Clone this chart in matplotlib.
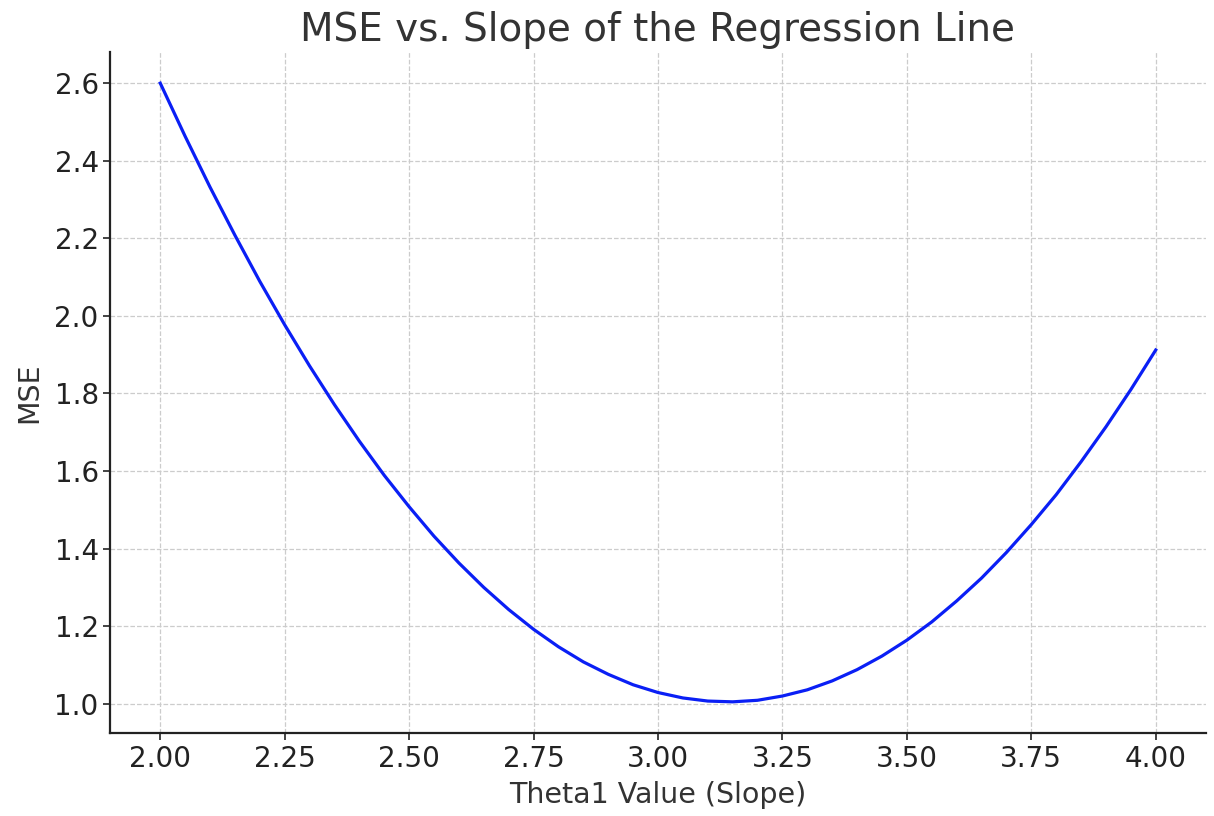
import matplotlib
matplotlib.use("Agg")
import matplotlib.pyplot as plt

# Valeurs (pente -> MSE), tous les 0.05
theta1 = [2.00, 2.05, 2.10, 2.15, 2.20, 2.25, 2.30, 2.35, 2.40, 2.45,
          2.50, 2.55, 2.60, 2.65, 2.70, 2.75, 2.80, 2.85, 2.90, 2.95,
          3.00, 3.05, 3.10, 3.15, 3.20, 3.25, 3.30, 3.35, 3.40, 3.45,
          3.50, 3.55, 3.60, 3.65, 3.70, 3.75, 3.80, 3.85, 3.90, 3.95, 4.00]
mse = [2.600, 2.463, 2.332, 2.208, 2.089, 1.977, 1.871, 1.771, 1.677, 1.589,
       1.508, 1.432, 1.363, 1.300, 1.243, 1.192, 1.147, 1.108, 1.076, 1.049,
       1.029, 1.015, 1.007, 1.005, 1.009, 1.020, 1.036, 1.059, 1.088, 1.123,
       1.164, 1.211, 1.265, 1.324, 1.390, 1.462, 1.539, 1.624, 1.714, 1.810, 1.912]

x_ticks = [2.00, 2.25, 2.50, 2.75, 3.00, 3.25, 3.50, 3.75, 4.00]
y_ticks = [1.0, 1.2, 1.4, 1.6, 1.8, 2.0, 2.2, 2.4, 2.6]

fig, ax = plt.subplots(figsize=(12.14, 8.16), dpi=100)
ax.plot(theta1, mse, color="#0a1ff5", linewidth=2.3)

ax.set_title("MSE vs. Slope of the Regression Line", fontsize=28, color="#333333", pad=8)
ax.set_xlabel("Theta1 Value (Slope)", fontsize=20.5, color="#333333", labelpad=6)
ax.set_ylabel("MSE", fontsize=20.5, color="#333333", labelpad=8)

ax.set_xticks(x_ticks)
ax.set_xticklabels(["{:.2f}".format(v) for v in x_ticks])
ax.set_yticks(y_ticks)
ax.set_yticklabels(["{:.1f}".format(v) for v in y_ticks])
ax.tick_params(labelsize=20, colors="#222222", length=5, width=1.2)

ax.grid(True, linestyle="--", color="#cccccc", linewidth=0.9)
ax.spines["top"].set_visible(False)
ax.spines["right"].set_visible(False)
ax.spines["left"].set_linewidth(1.6)
ax.spines["bottom"].set_linewidth(1.6)
ax.spines["left"].set_color("#222222")
ax.spines["bottom"].set_color("#222222")

fig.subplots_adjust(left=0.091, right=0.993, top=0.936, bottom=0.102)
fig.savefig("out.png", dpi=100)
